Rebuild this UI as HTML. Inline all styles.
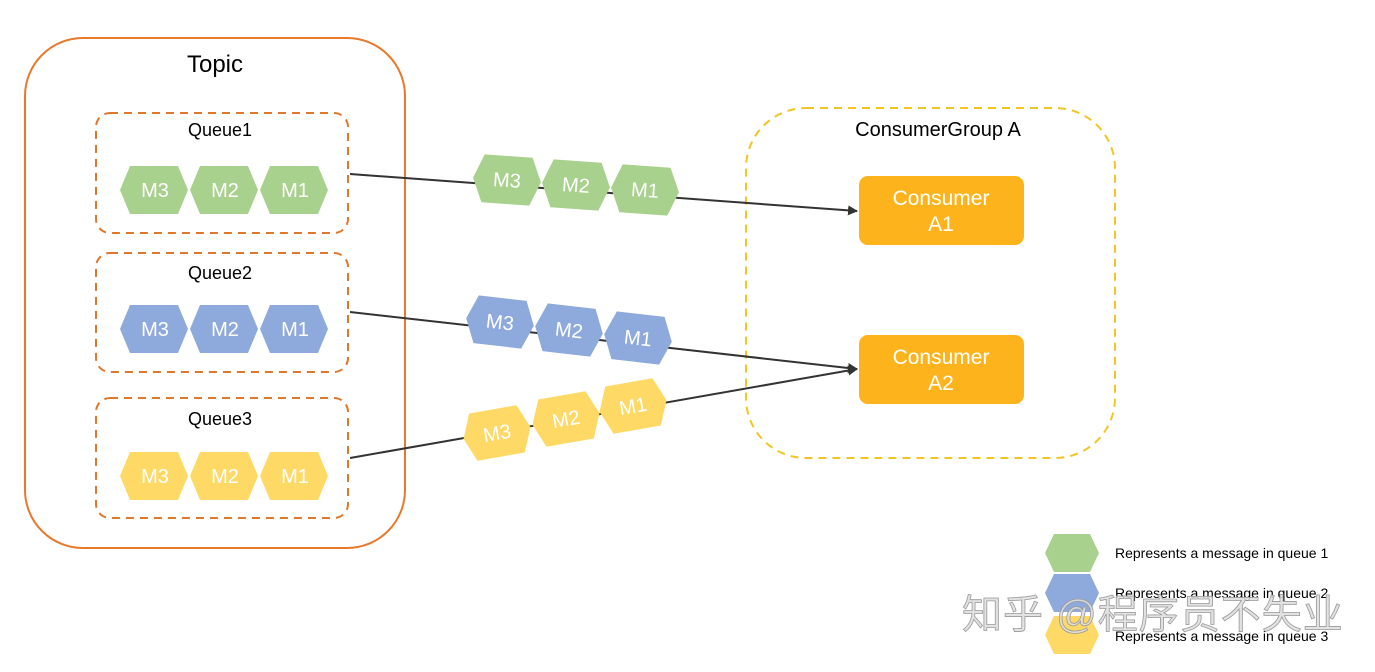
<!DOCTYPE html>
<html><head><meta charset="utf-8"><style>
html,body{margin:0;padding:0;background:#fff;}
svg{display:block;}
text{font-family:"Liberation Sans","Noto Sans CJK SC",sans-serif;}
</style></head><body>
<svg width="1375" height="672" viewBox="0 0 1375 672" xmlns="http://www.w3.org/2000/svg">
<defs>
<marker id="ar" markerWidth="10" markerHeight="10" refX="9" refY="5" orient="auto" markerUnits="userSpaceOnUse">
<path d="M0,0 L10,5 L0,10 Z" fill="#333"/>
</marker>
</defs>
<!-- Topic -->
<rect x="25" y="38" width="380" height="510" rx="58" fill="none" stroke="#E8792B" stroke-width="2"/>
<text x="215" y="72" font-size="24" text-anchor="middle" fill="#000">Topic</text>
<!-- Queues -->
<g fill="none" stroke="#E0782B" stroke-width="2" stroke-dasharray="8,6">
<rect x="96" y="113" width="252" height="120" rx="14"/>
<rect x="96" y="253" width="252" height="119" rx="14"/>
<rect x="96" y="398" width="252" height="120" rx="14"/>
</g>
<g font-size="18" text-anchor="middle" fill="#000">
<text x="220" y="136">Queue1</text>
<text x="220" y="279">Queue2</text>
<text x="220" y="425">Queue3</text>
</g>
<!-- Consumer group -->
<rect x="746" y="108" width="369" height="350" rx="60" fill="none" stroke="#F2C522" stroke-width="2" stroke-dasharray="8,6"/>
<text x="938" y="136" font-size="20" text-anchor="middle" fill="#000">ConsumerGroup A</text>
<rect x="859" y="176" width="165" height="69" rx="9" fill="#FDB41C"/>
<rect x="859" y="335" width="165" height="69" rx="9" fill="#FDB41C"/>
<g font-size="21" text-anchor="middle" fill="#fff">
<text x="941" y="205">Consumer</text><text x="941" y="231">A1</text>
<text x="941" y="364">Consumer</text><text x="941" y="390">A2</text>
</g>
<!-- lines -->
<g stroke="#333" stroke-width="2" fill="none">
<line x1="350" y1="174" x2="857" y2="211" marker-end="url(#ar)"/>
<line x1="350" y1="312" x2="857" y2="369" marker-end="url(#ar)"/>
<line x1="350" y1="458" x2="857" y2="369" marker-end="url(#ar)"/>
</g>
<!-- queue hexes -->
<g font-size="20" text-anchor="middle" fill="#fff">
<g fill="#A8D18D">
<polygon transform="translate(154,190)" points="-34,0 -24,-24 24,-24 34,0 24,24 -24,24"/>
<polygon transform="translate(224,190)" points="-34,0 -24,-24 24,-24 34,0 24,24 -24,24"/>
<polygon transform="translate(294,190)" points="-34,0 -24,-24 24,-24 34,0 24,24 -24,24"/>
</g>
<g fill="#8EA9DB">
<polygon transform="translate(154,329)" points="-34,0 -24,-24 24,-24 34,0 24,24 -24,24"/>
<polygon transform="translate(224,329)" points="-34,0 -24,-24 24,-24 34,0 24,24 -24,24"/>
<polygon transform="translate(294,329)" points="-34,0 -24,-24 24,-24 34,0 24,24 -24,24"/>
</g>
<g fill="#FFD966">
<polygon transform="translate(154,476)" points="-34,0 -24,-24 24,-24 34,0 24,24 -24,24"/>
<polygon transform="translate(224,476)" points="-34,0 -24,-24 24,-24 34,0 24,24 -24,24"/>
<polygon transform="translate(294,476)" points="-34,0 -24,-24 24,-24 34,0 24,24 -24,24"/>
</g>
<text x="155" y="197">M3</text><text x="225" y="197">M2</text><text x="295" y="197">M1</text>
<text x="155" y="336">M3</text><text x="225" y="336">M2</text><text x="295" y="336">M1</text>
<text x="155" y="483">M3</text><text x="225" y="483">M2</text><text x="295" y="483">M1</text>
<!-- floating -->
<g transform="translate(507,180) rotate(4)"><polygon fill="#A8D18D" points="-34,0 -24,-24 24,-24 34,0 24,24 -24,24"/><text y="7">M3</text></g>
<g transform="translate(576,185) rotate(4)"><polygon fill="#A8D18D" points="-34,0 -24,-24 24,-24 34,0 24,24 -24,24"/><text y="7">M2</text></g>
<g transform="translate(645,190) rotate(4)"><polygon fill="#A8D18D" points="-34,0 -24,-24 24,-24 34,0 24,24 -24,24"/><text y="7">M1</text></g>
<g transform="translate(500,322) rotate(6.5)"><polygon fill="#8EA9DB" points="-34,0 -24,-24 24,-24 34,0 24,24 -24,24"/><text y="7">M3</text></g>
<g transform="translate(569,330) rotate(6.5)"><polygon fill="#8EA9DB" points="-34,0 -24,-24 24,-24 34,0 24,24 -24,24"/><text y="7">M2</text></g>
<g transform="translate(638,338) rotate(6.5)"><polygon fill="#8EA9DB" points="-34,0 -24,-24 24,-24 34,0 24,24 -24,24"/><text y="7">M1</text></g>
<g transform="translate(497,433) rotate(-10)"><polygon fill="#FFD966" points="-34,0 -24,-24 24,-24 34,0 24,24 -24,24"/><text y="7">M3</text></g>
<g transform="translate(566,419) rotate(-10)"><polygon fill="#FFD966" points="-34,0 -24,-24 24,-24 34,0 24,24 -24,24"/><text y="7">M2</text></g>
<g transform="translate(633,406) rotate(-10)"><polygon fill="#FFD966" points="-34,0 -24,-24 24,-24 34,0 24,24 -24,24"/><text y="7">M1</text></g>
</g>
<!-- legend -->
<polygon transform="translate(1072,553)" fill="#A8D18D" points="-27,0 -18,-19 18,-19 27,0 18,19 -18,19"/>
<polygon transform="translate(1072,593)" fill="#8EA9DB" points="-27,0 -18,-19 18,-19 27,0 18,19 -18,19"/>
<polygon transform="translate(1072,635)" fill="#FFD966" points="-27,0 -18,-19 18,-19 27,0 18,19 -18,19"/>
<g font-size="14" fill="#000">
<text x="1115" y="558">Represents a message in queue 1</text>
<text x="1115" y="598">Represents a message in queue 2</text>
<text x="1115" y="641">Represents a message in queue 3</text>
</g>
<text x="962" y="628" font-size="40" fill="#ddd" fill-opacity="0.85" stroke="#999" stroke-width="0.8" letter-spacing="1">知乎 @程序员不失业</text>
</svg>
</body></html>
